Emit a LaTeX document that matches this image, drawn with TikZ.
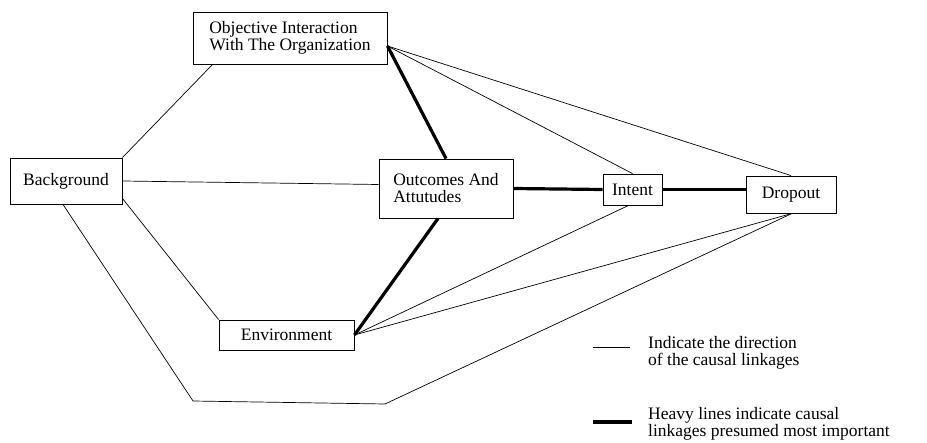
\documentclass[tikz,border=0pt]{standalone}
\usepackage{fontspec}
\setmainfont{Liberation Serif}
\begin{document}
\begin{tikzpicture}[x=1pt,y=-1pt,
  box/.style={draw, line width=0.9pt, inner sep=0pt, font=\fontsize{17.5}{17}\selectfont},
  thin/.style={line width=0.7pt},
  heavy/.style={line width=3.2pt},
  legtext/.style={inner sep=0pt, align=left, font=\fontsize{17.5}{16.5}\selectfont}]
\useasboundingbox (0,0) rectangle (927,443);
% boxes
\node[box, minimum width=194pt, minimum height=52pt, align=left] (obj) at (290,38) {Objective Interaction\\With The Organization};
\node[box, minimum width=112pt, minimum height=46pt] (bg) at (66,181) {Background};
\node[box, minimum width=134pt, minimum height=59pt, align=left] (out) at (446,188.5) {Outcomes And\\Attutudes};
\node[box, minimum width=59pt, minimum height=31pt] (int) at (632.5,189.5) {Intent};
\node[box, minimum width=90pt, minimum height=37pt] (drop) at (791,194.5) {Dropout};
\node[box, minimum width=135pt, minimum height=30pt] (env) at (286.5,335) {Environment};
% corner points
\coordinate (c1) at (193,401);
\coordinate (c2) at (385,404);
% thin connectors
\draw[thin] (bg.north east) -- ([xshift=20]obj.south west);
\draw[thin] (bg.east) -- ([yshift=4]out.west);
\draw[thin] ([yshift=6]bg.south east) -- (env.north west);
\draw[thin] ([xshift=-3]bg.south) -- (c1) -- (c2) -- ([xshift=1]drop.south);
\draw[thin] ([yshift=-8]obj.east) -- (int.north);
\draw[thin] ([yshift=-8]obj.east) -- (drop.north);
\draw[thin] (env.east) -- ([xshift=-4]int.south);
\draw[thin] (env.east) -- ([xshift=1]drop.south);
% heavy connectors
\draw[heavy] ([yshift=-8]obj.east) -- (out.north);
\draw[heavy] (out.east) -- (int.west);
\draw[heavy] (int.east) -- (int.east -| drop.west);
\draw[heavy] ([xshift=-8]out.south) -- (env.east);
% legend
\coordinate (la1) at (593,347);
\coordinate (la2) at (630,347);
\coordinate (lb1) at (593,422);
\coordinate (lb2) at (632,422);
\draw[thin] (la1) -- (la2);
\draw[heavy] (lb1) -- (lb2);
\node[legtext, anchor=west] (lta) at (648,353) {Indicate the direction\\of the causal linkages};
\node[legtext, anchor=west] (ltb) at (648,424) {Heavy lines indicate causal\\linkages presumed most important};
\end{tikzpicture}
\end{document}
